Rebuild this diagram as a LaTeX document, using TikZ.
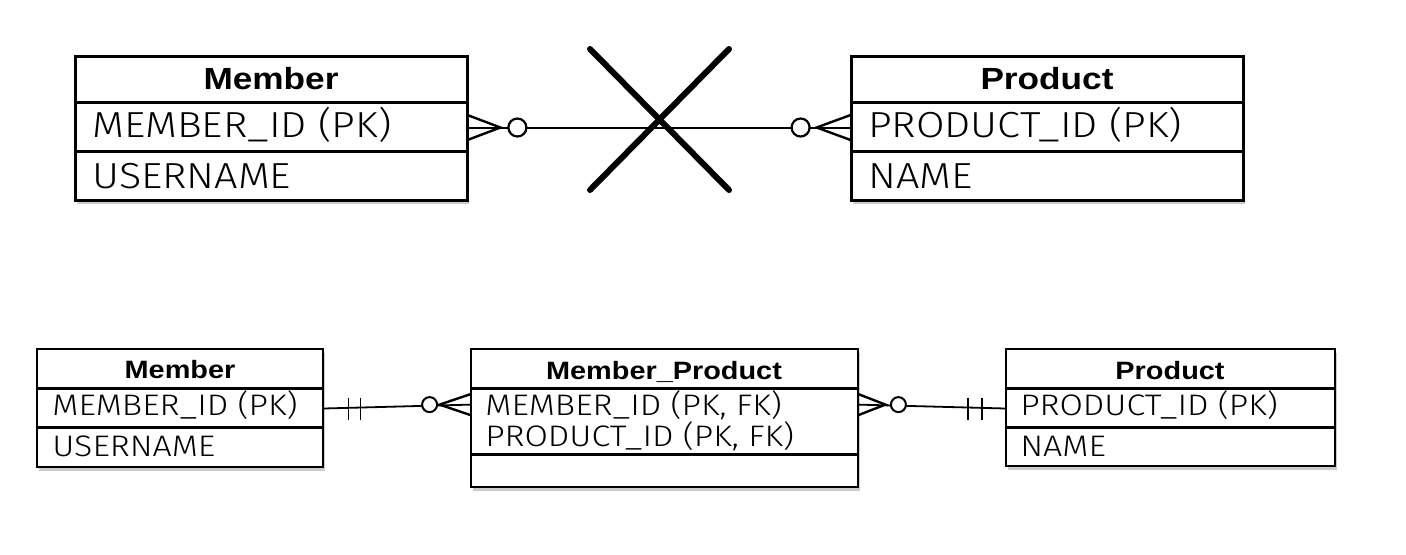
\documentclass[tikz,border=0pt]{standalone}
\usepackage{fontspec}
\setmainfont{Liberation Sans}
\newfontfamily\hdfont{Liberation Sans}
\newfontfamily\rwfont{Fira Sans Light}
\usetikzlibrary{shadows,calc,fit}
\newsavebox\tmpbox
\newcommand\HD[2]{\scalebox{#1}{\scalebox{\hsx}[1]{\hdfont\bfseries\fontsize{15.3}{17}\selectfont #2}}}
\newcommand\RW[2]{\scalebox{#1}{\scalebox{\rsx}[1]{\rwfont\fontsize{18.1}{20}\selectfont #2}}}
\begin{document}%
\sbox\tmpbox{\hdfont\bfseries\fontsize{15.3}{17}\selectfont Member}%
\pgfmathsetmacro\hsx{67.5/\the\wd\tmpbox}%
\sbox\tmpbox{\rwfont\fontsize{18.1}{20}\selectfont MEMBER\_ID (PK)}%
\pgfmathsetmacro\rsx{149.5/\the\wd\tmpbox}%
\begin{tikzpicture}[x=0.5pt,y=-0.5pt,
  ent/.style={draw, line width=1.5pt, fill=white, inner sep=0pt,
    drop shadow={shadow xshift=1.2pt, shadow yshift=-2pt, opacity=0.4}},
  ent2/.style={draw, line width=1.3pt, fill=white, inner sep=0pt,
    drop shadow={shadow xshift=1pt, shadow yshift=-1.8pt, opacity=0.4}},
  rowbox/.style={inner sep=0pt},
  divider/.style={line width=1.4pt},
  divider2/.style={line width=1.2pt},
  conn/.style={line width=1pt},
  conn2/.style={line width=0.9pt},
  crow/.style={line width=1.2pt},
  circ/.style={circle, draw, fill=white, line width=1.1pt, inner sep=0pt, minimum size=9pt},
  circ2/.style={circle, draw, fill=white, line width=1pt, inner sep=0pt, minimum size=7.5pt},
  xline/.style={line width=3pt, line cap=round},
  lbl/.style={inner sep=0pt, anchor=base west},
  hlbl/.style={inner sep=0pt, anchor=base}]
\useasboundingbox (0,0) rectangle (1406,554);
\fill[white] (0,0) rectangle (1406,554);

% ---------- top: Member ----------
\node[ent, fit={(75,56) (467,200)}] (tm) {};
\node[rowbox, fit={(75,56) (467,103)}] (tm0) {};
\node[rowbox, fit={(75,103) (467,152)}] (tm1) {};
\node[rowbox, fit={(75,152) (467,200)}] (tm2) {};
\draw[divider] (tm1.north west) -- (tm1.north east);
\draw[divider] (tm2.north west) -- (tm2.north east);
\node[hlbl] (tmh) at (271,89) {\HD{1}{Member}};
\node[lbl] (tmr1) at (92,137) {\RW{1}{MEMBER\_ID (PK)}};
\node[lbl] (tmr2) at (92,188) {\RW{1}{USERNAME}};

% ---------- top: Product ----------
\node[ent, fit={(851,56) (1243,200)}] (tp) {};
\node[rowbox, fit={(851,56) (1243,103)}] (tp0) {};
\node[rowbox, fit={(851,103) (1243,152)}] (tp1) {};
\node[rowbox, fit={(851,152) (1243,200)}] (tp2) {};
\draw[divider] (tp1.north west) -- (tp1.north east);
\draw[divider] (tp2.north west) -- (tp2.north east);
\node[hlbl] (tph) at (1047,89) {\HD{1}{Product}};
\node[lbl] (tpr1) at (868,137) {\RW{1}{PRODUCT\_ID (PK)}};
\node[lbl] (tpr2) at (868,188) {\RW{1}{NAME}};

% ---------- top connector ----------
\draw[conn] (tm1.east) -- (tp1.west);
\draw[crow] (tm1.east) ++(0,-12.5) -- ++(33,12.5) -- ++(-33,12.5);
\draw[crow] (tp1.west) ++(0,-12.5) -- ++(-34,12.5) -- ++(34,12.5);
\node[circ] (tc1) at ($(tm1.east)+(50,0)$) {};
\node[circ] (tc2) at ($(tp1.west)+(-50,0)$) {};
\draw[xline] (590,49) -- (729,190);
\draw[xline] (729,49) -- (590,190);

% ---------- bottom: Member ----------
\node[ent2, fit={(37,349) (323,467)}] (bm) {};
\node[rowbox, fit={(37,349) (323,389)}] (bm0) {};
\node[rowbox, fit={(37,389) (323,428)}] (bm1) {};
\node[rowbox, fit={(37,428) (323,467)}] (bm2) {};
\draw[divider2] (bm1.north west) -- (bm1.north east);
\draw[divider2] (bm2.north west) -- (bm2.north east);
\node[hlbl] (bmh) at (180,378) {\HD{0.82}{Member}};
\node[lbl] (bmr1) at (52,415) {\RW{0.82}{MEMBER\_ID (PK)}};
\node[lbl] (bmr2) at (52,456) {\RW{0.82}{USERNAME}};

% ---------- bottom: Member_Product ----------
\node[ent2, fit={(471,349) (858,487)}] (mp) {};
\node[rowbox, fit={(471,349) (858,389)}] (mp0) {};
\node[rowbox, fit={(471,389) (858,455)}] (mp1) {};
\node[rowbox, fit={(471,455) (858,487)}] (mp2) {};
\draw[divider2] (mp1.north west) -- (mp1.north east);
\draw[divider2] (mp2.north west) -- (mp2.north east);
\node[hlbl] (mph) at (664,379) {\HD{0.82}{Member\_Product}};
\node[lbl] (mpr1) at (485,415) {\RW{0.82}{MEMBER\_ID (PK, FK)}};
\node[lbl] (mpr2) at (485,446) {\RW{0.82}{PRODUCT\_ID (PK, FK)}};
\coordinate (mpl) at ($(mp1.north west)+(0,16)$);
\coordinate (mpr) at ($(mp1.north east)+(0,16)$);

% ---------- bottom: Product ----------
\node[ent2, fit={(1006,349) (1335,466)}] (bp) {};
\node[rowbox, fit={(1006,349) (1335,389)}] (bp0) {};
\node[rowbox, fit={(1006,389) (1335,428)}] (bp1) {};
\node[rowbox, fit={(1006,428) (1335,466)}] (bp2) {};
\draw[divider2] (bp1.north west) -- (bp1.north east);
\draw[divider2] (bp2.north west) -- (bp2.north east);
\node[hlbl] (bph) at (1170,379) {\HD{0.82}{Product}};
\node[lbl] (bpr1) at (1020,415) {\RW{0.82}{PRODUCT\_ID (PK)}};
\node[lbl] (bpr2) at (1020,456) {\RW{0.82}{NAME}};

% ---------- bottom connectors ----------
\draw[conn2] (bm1.east) -- (mpl);
\draw[conn2] ($(bm1.east)+(25,-11)$) -- ++(0,22);
\draw[conn2] ($(bm1.east)+(37,-11)$) -- ++(0,22);
\draw[crow] (mpl) ++(0,-10.5) -- ++(-31,10.5) -- ++(31,10.5);
\node[circ2] (bc1) at ($(mpl)+(-41,0)$) {};

\draw[conn2] (mpr) -- (bp1.west);
\draw[conn2] ($(bp1.west)+(-24,-11)$) -- ++(0,22);
\draw[conn2] ($(bp1.west)+(-38,-11)$) -- ++(0,22);
\draw[crow] (mpr) ++(0,-10.5) -- ++(27,10.5) -- ++(-27,10.5);
\node[circ2] (bc2) at ($(mpr)+(40,0)$) {};
\end{tikzpicture}%
\end{document}
